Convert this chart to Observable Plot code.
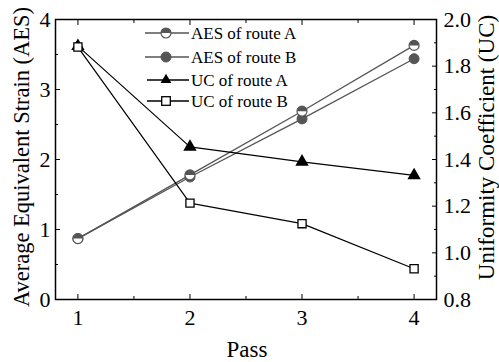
<!DOCTYPE html>
<html>
<head>
<meta charset="utf-8">
<script src="https://cdn.jsdelivr.net/npm/d3@7"></script>
<script src="https://cdn.jsdelivr.net/npm/@observablehq/plot@0.6"></script>
<style>
  html, body { margin: 0; padding: 0; background: white; }
  #chart { width: 499px; height: 362px; }
</style>
</head>
<body>
<div id="chart"></div>
<script>
// ---- data ----
const passes = [1, 2, 3, 4];
const aesA = [0.87, 1.78, 2.69, 3.63];
const aesB = [0.87, 1.75, 2.58, 3.44];
const ucA = [1.886, 1.454, 1.39, 1.332];
const ucB = [1.882, 1.213, 1.125, 0.932];
const seriesNames = ["AES of route A", "AES of route B", "UC of route A", "UC of route B"];
const aesTicks = [0, 1, 2, 3, 4];
const aesMinor = [0.5, 1.5, 2.5, 3.5];
const ucTicks = [0.8, 1.0, 1.2, 1.4, 1.6, 1.8, 2.0];
const ucMinor = [0.9, 1.1, 1.3, 1.5, 1.7, 1.9];
const passMinor = [1.5, 2.5, 3.5];
const xLabel = "Pass";
const yLabel = "Average Equivalent Strain (AES)";
const y2Label = "Uniformity Coefficient (UC)";

// UC (right axis, 0.8–2.0) mapped onto the AES scale (0–4)
const ucMin = 0.8, ucMax = 2.0, aesMax = 4;
const conv = u => (u - ucMin) / (ucMax - ucMin) * aesMax;
const inv = v => v / aesMax * (ucMax - ucMin) + ucMin;

const gray = "#555";
const rows = [];
passes.forEach((p, i) => {
  rows.push({s: seriesNames[0], x: p, y: aesA[i]});
  rows.push({s: seriesNames[1], x: p, y: aesB[i]});
  rows.push({s: seriesNames[2], x: p, y: conv(ucA[i])});
  rows.push({s: seriesNames[3], x: p, y: conv(ucB[i])});
});
const of = name => rows.filter(d => d.s === name);

const halfTop = {
  draw(context, size) {
    const r = Math.sqrt(size / Math.PI);
    context.moveTo(-r, 0);
    context.arc(0, 0, r, Math.PI, 2 * Math.PI);
    context.closePath();
  }
};

const font = "'Liberation Serif', 'Times New Roman', serif";

const chart = Plot.plot({
  width: 499,
  height: 362,
  marginLeft: 55,
  marginRight: 63,
  marginTop: 19,
  marginBottom: 63,
  style: {fontFamily: font, fontSize: "20px", background: "white", color: "black"},
  x: {domain: [0.8, 4.2]},
  y: {domain: [0, 4]},
  marks: [
    // axes (inward ticks)
    Plot.axisX(passes, {anchor: "bottom", tickSize: -5, tickPadding: 15, label: null, fontSize: 22, tickFormat: d => String(d)}),
    Plot.axisX(passMinor, {anchor: "bottom", tickSize: -3, tickFormat: () => "", label: null}),
    Plot.axisX(passes, {anchor: "top", tickSize: -5, tickFormat: () => "", label: null}),
    Plot.axisX(passMinor, {anchor: "top", tickSize: -3, tickFormat: () => "", label: null}),
    Plot.axisY(aesTicks, {anchor: "left", tickSize: -5, tickPadding: 10, label: null, fontSize: 22, tickFormat: d => String(d)}),
    Plot.axisY(aesMinor, {anchor: "left", tickSize: -3, tickFormat: () => "", label: null}),
    Plot.axisY(ucTicks.map(conv), {anchor: "right", tickSize: -5, tickPadding: 12, label: null, fontSize: 22,
      tickFormat: d => inv(d).toFixed(1)}),
    Plot.axisY(ucMinor.map(conv), {anchor: "right", tickSize: -3, tickFormat: () => "", label: null}),
    Plot.frame({stroke: "black", strokeWidth: 1.5}),
    // axis titles
    Plot.text([yLabel], {frameAnchor: "left", dx: -34, dy: -2.5, rotate: -90, textAnchor: "middle", lineAnchor: "middle", fontSize: 22.5, text: d => d}),
    Plot.text([y2Label], {frameAnchor: "right", dx: 50, dy: -12, rotate: -90, textAnchor: "middle", lineAnchor: "middle", fontSize: 23, text: d => d}),
    Plot.text([xLabel], {frameAnchor: "bottom", dx: 1, dy: 50, textAnchor: "middle", lineAnchor: "middle", fontSize: 23, text: d => d}),
    // lines
    Plot.line(of(seriesNames[0]), {x: "x", y: "y", stroke: gray, strokeWidth: 1.3}),
    Plot.line(of(seriesNames[1]), {x: "x", y: "y", stroke: gray, strokeWidth: 1.3}),
    Plot.line(of(seriesNames[2]), {x: "x", y: "y", stroke: "black", strokeWidth: 1.2}),
    Plot.line(of(seriesNames[3]), {x: "x", y: "y", stroke: "black", strokeWidth: 1.2}),
    // markers
    Plot.dot(of(seriesNames[1]), {x: "x", y: "y", r: 5, fill: gray, stroke: gray, strokeWidth: 1}),
    Plot.dot(of(seriesNames[0]), {x: "x", y: "y", r: 5, fill: "white", stroke: gray, strokeWidth: 1.2}),
    Plot.dot(of(seriesNames[0]), {x: "x", y: "y", r: 5, symbol: halfTop, fill: gray, stroke: "none"}),
    Plot.dot(of(seriesNames[2]), {x: "x", y: "y", r: 4, symbol: "triangle", fill: "black", stroke: "black"}),
    Plot.dot(of(seriesNames[3]), {x: "x", y: "y", r: 4.6, symbol: "square", fill: "white", stroke: "black", strokeWidth: 1.3})
  ]
});

// legend (inside plot area, top-left)
const svg = d3.select(chart);
const lg = svg.append("g").attr("font-family", font).attr("font-size", 17).attr("text-anchor", "start");
const legendY = [33, 57, 80, 101];
const styles = [
  {stroke: gray, kind: "halfcircle"},
  {stroke: gray, kind: "circle"},
  {stroke: "black", kind: "triangle"},
  {stroke: "black", kind: "square"}
];
seriesNames.forEach((name, i) => {
  const y = legendY[i];
  const st = styles[i];
  const x0 = i < 2 ? 145 : 147, x1 = 189, xm = 166;
  lg.append("line").attr("x1", x0).attr("x2", x1).attr("y1", y).attr("y2", y)
    .attr("stroke", st.stroke).attr("stroke-width", 1.3);
  if (st.kind === "halfcircle") {
    lg.append("circle").attr("cx", xm).attr("cy", y).attr("r", 5).attr("fill", "white").attr("stroke", gray).attr("stroke-width", 1.2);
    lg.append("path").attr("d", d3.symbol(halfTop, Math.PI * 25)()).attr("transform", `translate(${xm},${y})`).attr("fill", gray);
  } else if (st.kind === "circle") {
    lg.append("circle").attr("cx", xm).attr("cy", y).attr("r", 5).attr("fill", gray).attr("stroke", gray);
  } else if (st.kind === "triangle") {
    lg.append("path").attr("d", d3.symbol(d3.symbolTriangle, Math.PI * 16)()).attr("transform", `translate(${xm},${y})`).attr("fill", "black");
  } else {
    lg.append("rect").attr("x", xm - 4.3).attr("y", y - 4.3).attr("width", 8.6).attr("height", 8.6)
      .attr("fill", "white").attr("stroke", "black").attr("stroke-width", 1.3);
  }
  lg.append("text").attr("x", 191).attr("y", y).attr("dy", "0.35em").attr("fill", "black").attr("text-anchor", "start").text(name);
});

document.getElementById("chart").appendChild(chart);
</script>
</body>
</html>
